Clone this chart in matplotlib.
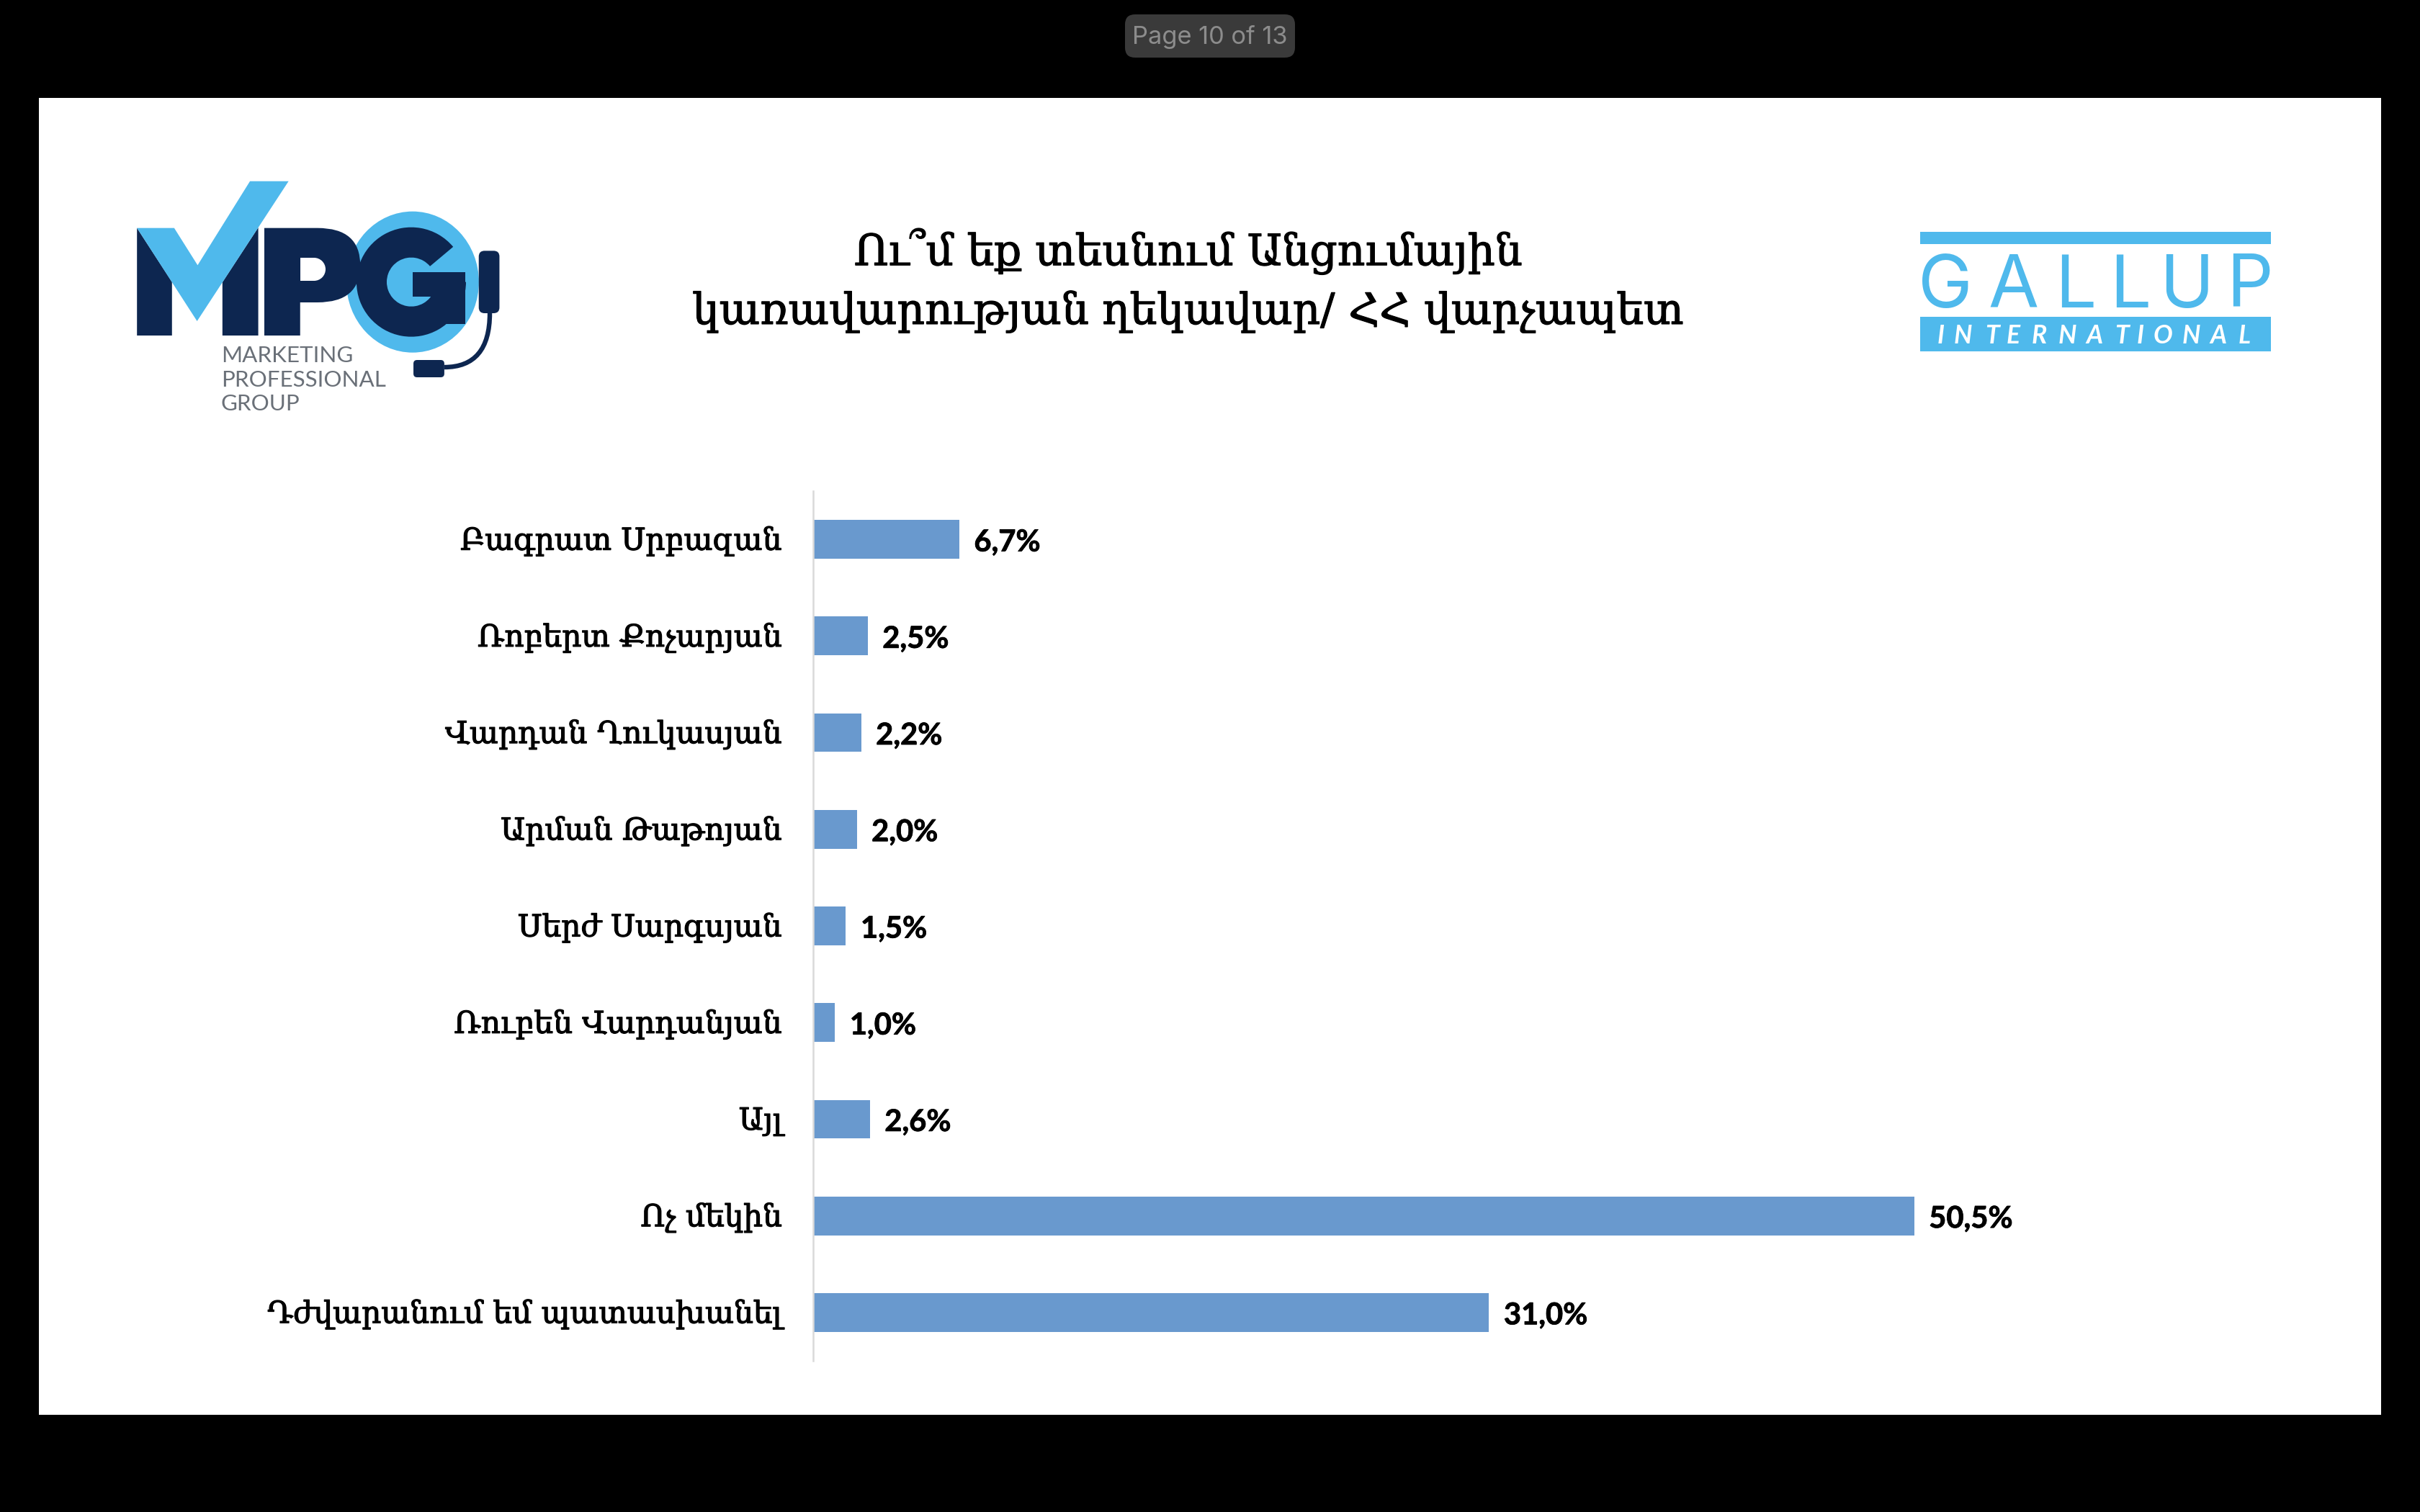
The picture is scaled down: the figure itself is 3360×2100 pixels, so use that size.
import matplotlib
matplotlib.use("Agg")
import matplotlib.pyplot as plt
import matplotlib.patheffects as pe
from matplotlib.patches import Rectangle, Polygon, FancyBboxPatch, Wedge, Circle, PathPatch, Ellipse
from matplotlib.path import Path
from matplotlib.transforms import ScaledTranslation

categories = ["Բագրատ Սրբազան", "Ռոբերտ Քոչարյան", "Վարդան Ղուկասյան", "Արման Թաթոյան",
              "Սերժ Սարգսյան", "Ռուբեն Վարդանյան", "Այլ", "Ոչ մեկին", "Դժվարանում եմ պատասխանել"]
values = [6.7, 2.5, 2.2, 2.0, 1.5, 1.0, 2.6, 50.5, 31.0]
value_labels = ["6,7%", "2,5%", "2,2%", "2,0%", "1,5%", "1,0%", "2,6%", "50,5%", "31,0%"]
title_lines = ["Ու՞մ եք տեսնում Անցումային", "կառավարության ղեկավար/ ՀՀ վարչապետ"]

W, H = 3360, 2100
SERIF = ["DejaVu Serif", "DejaVu Sans"]
DARK, LIGHT = "#0D2650", "#4FB9EC"
BAR = "#6999CE"
HEAVY = [pe.withStroke(linewidth=0.45, foreground="black")]

fig = plt.figure(figsize=(W / 200, H / 200), dpi=200, facecolor="black")

# overlay in pixel coordinates for the slide furniture
bg = fig.add_axes([0, 0, 1, 1])
bg.set_xlim(0, W); bg.set_ylim(H, 0); bg.axis("off")
bg.add_patch(Rectangle((54, 136), 3252, 1829, fc="white", ec="none"))
bg.add_patch(FancyBboxPatch((1572, 30), 216, 40, boxstyle="round,pad=10,rounding_size=14", fc="#3A3A3A", ec="none"))
bg.text(1680, 51, "Page 10 of 13", color="#8C8C8C", family="Inter", fontsize=12.4, ha="center", va="center")

# title
for line, yc in zip(title_lines, [349, 433]):
    bg.text(1650, yc, line, family=SERIF, fontsize=21.5, ha="center", va="center", color="black", path_effects=HEAVY)

# MPG logo, outlined from zoom coordinates
def m(x, y):
    return (150 + x / 2.613, 220 + y / 3)

def poly(pts, c):
    bg.add_patch(Polygon([m(*p) for p in pts], closed=True, fc=c, ec="none"))

poly([(105, 290), (232, 515), (232, 738), (105, 738)], DARK)
poly([(415, 516), (545, 288), (545, 738), (415, 738)], DARK)
poly([(105, 290), (240, 290), (325, 445), (515, 95), (655, 95), (323, 678)], LIGHT)
cx, cy = m(1105, 515)
bg.add_patch(Ellipse((cx, cy), 184, 196, fc=LIGHT, ec="none"))
# P
P = Path([m(567, 290), m(760, 290), m(915, 290), m(915, 445), m(915, 600), m(760, 600), m(697, 600),
          m(697, 738), m(567, 738), m(567, 290)],
         [Path.MOVETO, Path.LINETO, Path.CURVE3, Path.CURVE3, Path.CURVE3, Path.CURVE3, Path.LINETO,
          Path.LINETO, Path.LINETO, Path.CLOSEPOLY])
bg.add_patch(PathPatch(P, fc=DARK, ec="none"))
bg.add_patch(Rectangle((417, 358), 19, 32, fc="white", ec="none"))
bg.add_patch(Circle((436, 374), 16, fc="white", ec="none"))
# G
gx, gy = m(1100, 515)
bg.add_patch(Wedge((gx, gy), 76, 0, 320, width=42, fc=DARK, ec="none"))
poly([(1105, 475), (1295, 475), (1295, 690), (1170, 690), (1170, 575), (1105, 575)], DARK)
# headset
x0, y0 = m(1345, 385); x1, y1 = m(1420, 645)
bg.add_patch(FancyBboxPatch((x0 + 6, y0 + 6), x1 - x0 - 12, y1 - y0 - 12, boxstyle="round,pad=6,rounding_size=8", fc=DARK, ec="none"))
arm = Path([m(1385, 645), m(1385, 870), m(1220, 870)], [Path.MOVETO, Path.CURVE3, Path.CURVE3])
bg.add_patch(PathPatch(arm, fc="none", ec=DARK, lw=2.3))
x0, y0 = m(1108, 840); x1, y1 = m(1220, 912)
bg.add_patch(FancyBboxPatch((x0 + 4, y0 + 4), x1 - x0 - 8, y1 - y0 - 8, boxstyle="round,pad=4,rounding_size=5", fc=DARK, ec="none"))
for txt, yb in [("MARKETING", 503), ("PROFESSIONAL", 537), ("GROUP", 570)]:
    bg.text(307, yb, txt, family="Lato", fontsize=11.3, color="#6A7078", ha="left", va="baseline")

# GALLUP logo
bg.add_patch(Rectangle((2666, 322), 487, 17, fc=LIGHT, ec="none"))
bg.add_patch(Rectangle((2666, 440), 487, 48, fc=LIGHT, ec="none"))
for ch, x in zip("GALLUP", [2701, 2795, 2882, 2958, 3036, 3124]):
    bg.text(x, 427, ch, family="Inter", fontweight="normal", fontsize=36.6, color=LIGHT, ha="center", va="baseline")
for ch, zx in zip("INTERNATIONAL", [195, 260, 380, 465, 562, 665, 775, 885, 970, 1035, 1148, 1255, 1365]):
    bg.text(2620 + zx / 2.8, 477, ch, family="Lato", fontweight="bold", style="italic", fontsize=12.8,
            color="white", ha="left", va="baseline")

# chart
left, right, top, bottom = 1129, 3129, 682, 1890
ax = fig.add_axes([left / W, 1 - bottom / H, (right - left) / W, (bottom - top) / H])
ax.patch.set_alpha(0)
pos = list(range(len(categories)))
ax.barh(pos, values, height=0.4, color=BAR)
ax.set_ylim(len(categories) - 0.5, -0.5)
ax.set_xlim(0, (right - left) / 30.27)
for s in ["top", "right", "bottom"]:
    ax.spines[s].set_visible(False)
ax.spines["left"].set_color("#D9D9D9")
ax.spines["left"].set_linewidth(0.9)
ax.set_xticks([])
ax.set_yticks(pos, categories, family=SERIF, fontsize=15.2, color="black")
ax.tick_params(axis="y", length=0, pad=15.5)
lift = ScaledTranslation(0, 2 / 200, fig.dpi_scale_trans)
for t in ax.get_yticklabels():
    t.set_path_effects(HEAVY)
    t.set_transform(t.get_transform() + lift)
for p, v, lab in zip(pos, values, value_labels):
    ax.annotate(lab, (v, p), xytext=(7.4, -1.6), textcoords="offset points", family="Lato", fontweight="bold",
                fontsize=15, color="black", ha="left", va="center",
                path_effects=[pe.withStroke(linewidth=0.3, foreground="black")])

fig.savefig("out.png", dpi=200, facecolor="black")
